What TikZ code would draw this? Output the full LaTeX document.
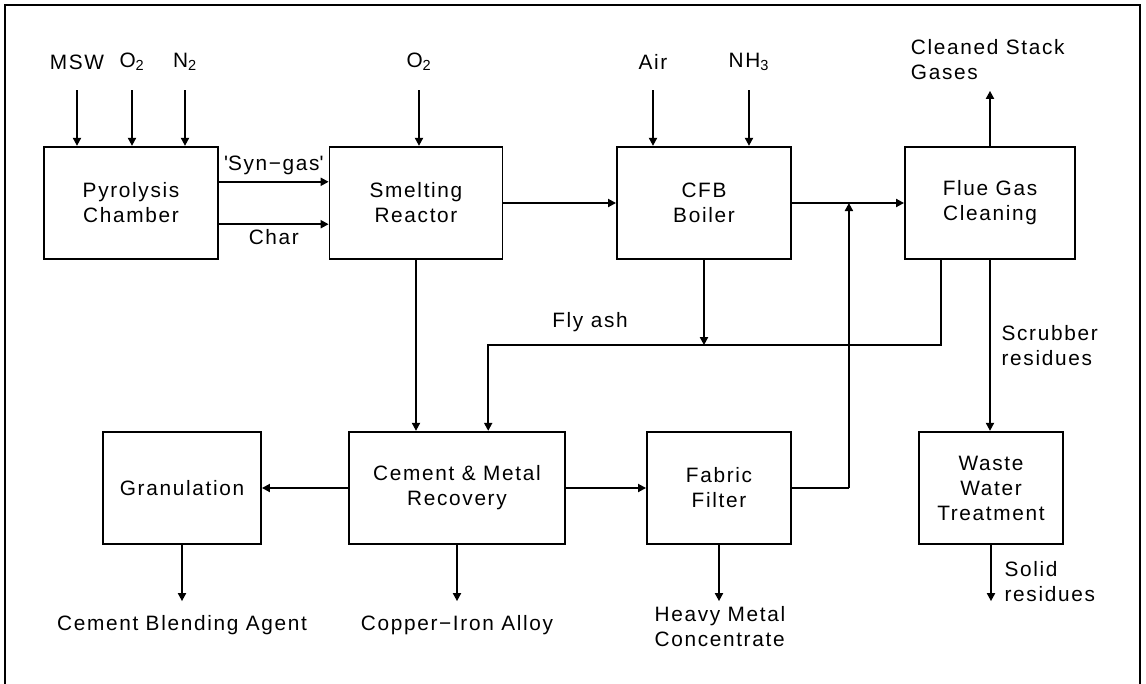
\documentclass[tikz,border=0pt]{standalone}
\usepackage{fontspec}
\setmainfont[LetterSpace=8]{Liberation Sans}
\usetikzlibrary{arrows.meta,calc}

\begin{document}
\begin{tikzpicture}[x=0.025cm,y=-0.025cm,
    font=\fontsize{14.8}{17.8}\selectfont,
    unit/.style={draw,line width=1.3pt,align=center,minimum height=2.81cm,inner sep=0pt},
    flow/.style={line width=1.3pt,-{Triangle[length=0.2cm,width=0.2cm]}}]
    % Define the frame
    \useasboundingbox (0,0) rectangle (1146,684);
    \draw[line width=1.8pt] (5,684) -- (5,5) -- (1140,5) -- (1140,684);

    % Define the process units
    \node[unit,minimum width=4.35cm] (pyro) at (131,203) {Pyrolysis\\Chamber};
    \node[unit,minimum width=4.32cm] (smelt) at (416,203) {Smelting\\Reactor};
    \node[unit,minimum width=4.35cm] (cfb) at (704,203) {CFB\\Boiler};
    \node[unit,minimum width=4.25cm] (flue) at (990,203) {Flue Gas\\Cleaning};
    \node[unit,minimum width=3.95cm] (gran) at (182,488) {Granulation};
    \node[unit,minimum width=5.4cm] (cmr) at (457,488) {Cement \& Metal\\Recovery};
    \node[unit,minimum width=3.6cm] (fabric) at (719,488) {Fabric\\Filter};
    \node[unit,minimum width=3.58cm] (wwt) at (991,488) {Waste\\Water\\Treatment};

    % Draw the feed streams
    \foreach \feed/\x/\unit/\txt in {msw/77/pyro/MSW, oxa/132/pyro/O\textsubscript{2},
        nit/185/pyro/N\textsubscript{2}, oxb/419/smelt/O\textsubscript{2},
        air/653/cfb/Air, amm/749/cfb/NH\textsubscript{3}} {
        \node (\feed) at (\x,62) {\txt};
        \coordinate (\feed-in) at (\feed |- 0,90);
        \draw[flow] (\feed-in) -- (\feed-in |- \unit.north);
    }

    % Draw the main gas and solids line
    \draw[flow] ([yshift=0.53cm]pyro.east) -- ([yshift=0.53cm]smelt.west)
        node[midway,above,yshift=1pt] {\textquotesingle Syn−gas\textquotesingle};
    \draw[flow] ([yshift=-0.53cm]pyro.east) -- ([yshift=-0.53cm]smelt.west)
        node[midway,below] {Char};
    \draw[flow] (smelt) -- (cfb);
    \draw[flow] (cfb) -- (flue);
    \draw[flow] (smelt.south) -- (smelt.south |- cmr.north);
    \draw[flow] (cmr) -- (gran);
    \draw[flow] (cmr) -- (fabric);
    \draw[line width=1.3pt] (fabric.east) -- ++(57,0) coordinate (riser);
    \draw[flow] (riser) -- (riser |- flue.west);

    % Draw the fly ash return
    \draw[flow] ([xshift=-1.22cm]flue.south) -- ++(0,85) coordinate (ashbus)
        -| ([xshift=0.78cm]cmr.north);
    \draw[flow] (cfb.south) -- (cfb.south |- ashbus);
    \node (flyash) at (590,322) {Fly ash};

    % Draw the products
    \node[anchor=west,align=left] (stack) at (906,60) {Cleaned Stack\\Gases};
    \draw[flow] (flue.north) -- ++(0,-55);
    \draw[flow] (flue.south) -- (flue.south |- wwt.north)
        node[midway,right,xshift=0.15cm,align=left] {Scrubber\\residues};
    \draw[flow] (wwt.south) -- ++(0,56)
        node[pos=0.65,right,xshift=0.2cm,align=left] {Solid\\residues};
    \draw[flow] (gran.south) -- ++(0,56) node[below,yshift=-0.22cm] {Cement Blending Agent};
    \draw[flow] (cmr.south) -- ++(0,56) node[below,yshift=-0.22cm] {Copper−Iron Alloy};
    \draw[flow] (fabric.south) -- ++(0,56)
        node[below right,xshift=-1.75cm,align=left] {Heavy Metal\\Concentrate};
\end{tikzpicture}
\end{document}
